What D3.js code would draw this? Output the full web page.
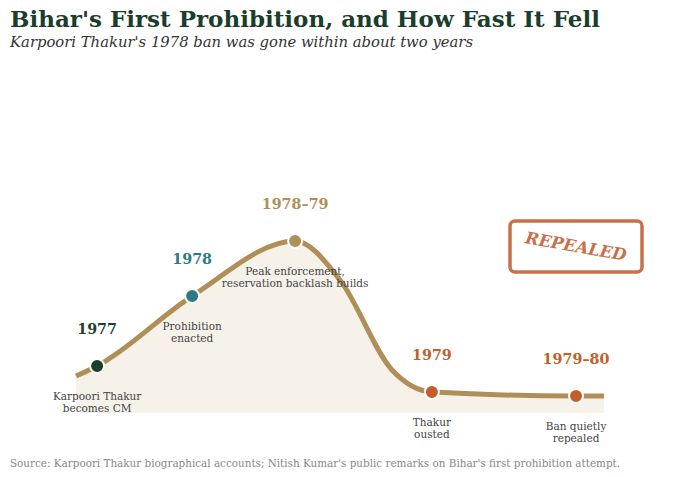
<!DOCTYPE html>
<html lang="en">
<head>
    <meta charset="UTF-8">
    <title>Bihar's First Prohibition</title>
    <style>
        body { margin: 0; background: #ffffff; }
        svg { display: block; font-family: "DejaVu Serif", serif; }
    </style>
    <script src="https://d3js.org/d3.v7.min.js"></script>
</head>
<body>
    <svg width="700" height="477"></svg>
    <script>
        // events along the timeline (position 0-100 across the span)
        const years = ["1977", "1978", "1978–79", "1979", "1979–80"];
        const notes = [
            ["Karpoori Thakur", "becomes CM"],
            ["Prohibition", "enacted"],
            ["Peak enforcement,", "reservation backlash builds"],
            ["Thakur", "ousted"],
            ["Ban quietly", "repealed"]
        ];
        const eventPos = [4, 22, 41.5, 67.4, 94.7];
        const intensity = [26, 64.6, 95, 11.6, 9.4];
        const eventColors = ["#1c3f2e", "#2a7b82", "#b08e57", "#c25e29", "#c25e29"];

        // enforcement curve (event points plus two points on the collapse)
        const curvePos = [0, 4, 22, 41.5, 50, 59.85, 67.4, 94.7, 100];
        const curveVal = [20.4, 26, 64.6, 95, 73.5, 23.8, 11.6, 9.4, 9.4];

        const svg = d3.select("svg");

        const x = d3.scaleLinear().domain([0, 100]).range([76, 604]);
        const y = d3.scaleLinear().domain([0, 100]).range([413, 232]);

        const pts = curvePos.map((p, i) => [p, curveVal[i]]);

        // title block
        svg.append("text")
            .attr("x", 10).attr("y", 27)
            .attr("font-size", 23).attr("font-weight", "bold")
            .attr("fill", "#1b3d2d")
            .text("Bihar's First Prohibition, and How Fast It Fell");
        svg.append("text")
            .attr("x", 10).attr("y", 47)
            .attr("font-size", 14.8).attr("font-style", "italic")
            .attr("fill", "#333")
            .text("Karpoori Thakur's 1978 ban was gone within about two years");

        // area + line
        const area = d3.area()
            .x(d => x(d[0])).y0(y(0)).y1(d => y(d[1]))
            .curve(d3.curveMonotoneX);
        const line = d3.line()
            .x(d => x(d[0])).y(d => y(d[1]))
            .curve(d3.curveMonotoneX);

        svg.append("path").datum(pts)
            .attr("d", area)
            .attr("fill", "#f6f2ea");
        svg.append("path").datum(pts)
            .attr("d", line)
            .attr("fill", "none")
            .attr("stroke", "#b08e57")
            .attr("stroke-width", 5);

        // dots and labels
        const ev = svg.selectAll(".ev")
            .data(years)
            .join("g")
            .attr("class", "ev")
            .attr("transform", (d, i) => `translate(${x(eventPos[i])},${y(intensity[i])})`);

        ev.append("circle")
            .attr("r", 7)
            .attr("fill", (d, i) => eventColors[i])
            .attr("stroke", "#fff")
            .attr("stroke-width", 2);

        ev.append("text")
            .attr("y", -32)
            .attr("text-anchor", "middle")
            .attr("font-size", 14.3).attr("font-weight", "bold")
            .attr("fill", (d, i) => eventColors[i])
            .text(d => d);

        ev.each(function (d, i) {
            const t = d3.select(this).append("text")
                .attr("text-anchor", "middle")
                .attr("font-size", 10.5)
                .attr("fill", "#444");
            notes[i].forEach((s, k) => {
                t.append("tspan").attr("x", 0).attr("y", 34 + k * 12).text(s);
            });
        });

        // repealed stamp
        const stamp = svg.append("g").attr("transform", "translate(576,246)");
        stamp.append("rect")
            .attr("x", -66).attr("y", -25).attr("width", 132).attr("height", 51)
            .attr("rx", 5)
            .attr("fill", "none")
            .attr("stroke", "#c8704a")
            .attr("stroke-width", 3.5);
        stamp.append("text")
            .attr("transform", "rotate(10)")
            .attr("text-anchor", "middle")
            .attr("dy", 6)
            .attr("font-size", 16.5).attr("font-weight", "bold").attr("font-style", "italic")
            .attr("fill", "#c8704a")
            .text("REPEALED");

        // source
        svg.append("text")
            .attr("x", 10).attr("y", 467)
            .attr("font-size", 10.4)
            .attr("fill", "#888")
            .text("Source: Karpoori Thakur biographical accounts; Nitish Kumar's public remarks on Bihar's first prohibition attempt.");
    </script>
</body>
</html>
